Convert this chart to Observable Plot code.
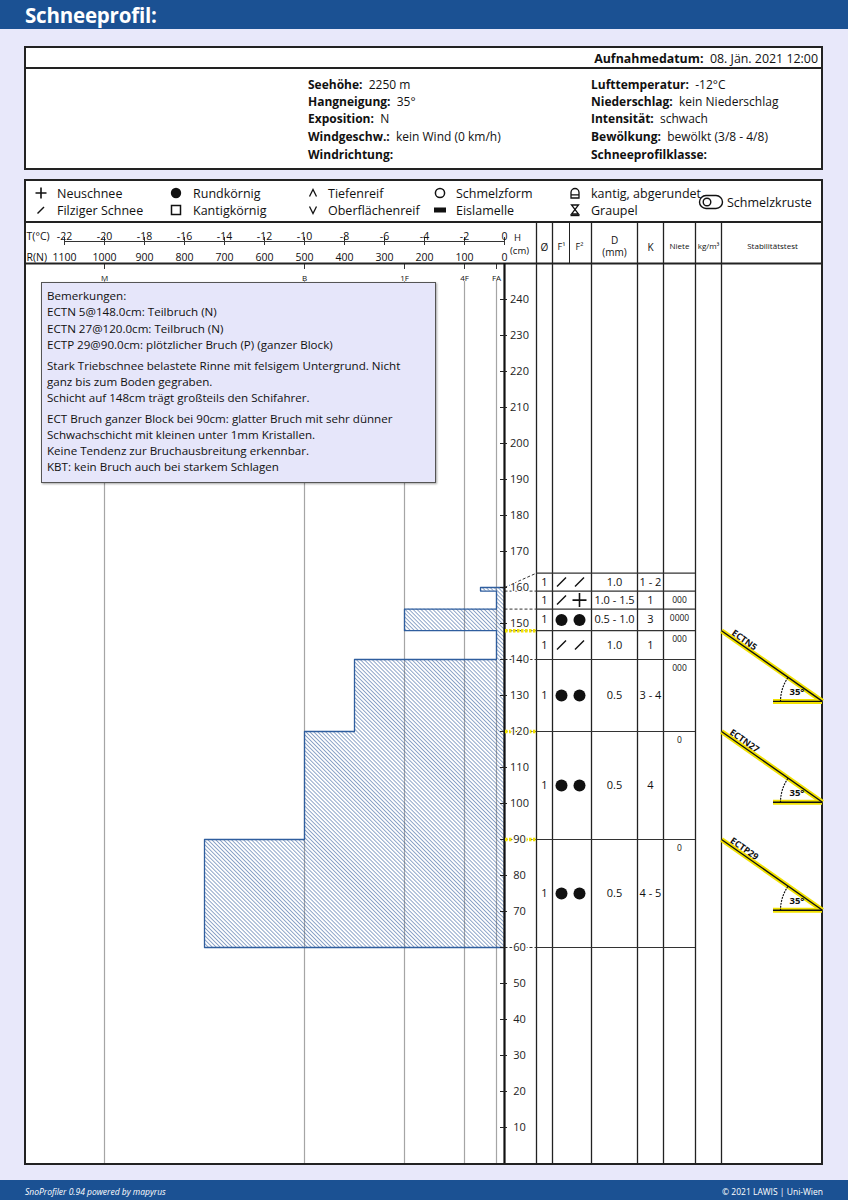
<!DOCTYPE html>
<html><head><meta charset="utf-8">
<script src="https://cdn.jsdelivr.net/npm/d3@7"></script>
<script src="https://cdn.jsdelivr.net/npm/@observablehq/plot@0.6"></script>
<style>
body{margin:0;background:#e8e8fa;font-family:"Open Sans",sans-serif;color:#111;}
#page{position:relative;width:848px;height:1200px;overflow:hidden;background:#e8e8fa;}
.abs{position:absolute;white-space:nowrap;}
.box{background:#fff;border:2px solid #222;}
.rem{background:#e6e6fa;border:1px solid #555;box-shadow:1px 1px 2px rgba(0,0,0,.35);}
</style></head>
<body><div id="page"></div>
<script>
// ---------------- DATA ----------------
const layerTop    = [160, 159, 154, 148, 140, 120, 90];
const layerBottom = [159, 154, 148, 140, 120, 90, 60];
const hardnessN   = [60, 20, 250, 20, 375, 500, 750];
const moisture    = ["1", "1", "1", "1", "1", "1", "1"];
const grainF1     = ["/", "/", "●", "/", "●", "●", "●"];
const grainF2     = ["/", "+", "●", "/", "●", "●", "●"];
const grainSize   = ["1.0", "1.0 - 1.5", "0.5 - 1.0", "1.0", "0.5", "0.5", "0.5"];
const handIndex   = ["1 - 2", "1", "3", "1", "3 - 4", "4", "4 - 5"];
const niete       = ["", "000", "0000", "000", "000", "0", "0"];

const tempTicks = [-22, -20, -18, -16, -14, -12, -10, -8, -6, -4, -2, 0];
const ramTicks  = [1100, 1000, 900, 800, 700, 600, 500, 400, 300, 200, 100, 0];
const handLabels = ["M", "B", "1F", "4F", "FA"];
const handN      = [1000, 500, 250, 100, 20];
const heightTicks = [10, 20, 30, 40, 50, 60, 70, 80, 90, 100, 110, 120, 130, 140, 150, 160, 170, 180, 190, 200, 210, 220, 230, 240];

const testNames   = ["ECTN5", "ECTN27", "ECTP29"];
const testHeights = [148, 120, 90];
const slopeDeg = 35;

const infoLeftLabels  = ["Seehöhe:", "Hangneigung:", "Exposition:", "Windgeschw.:", "Windrichtung:"];
const infoLeftValues  = ["2250 m", "35°", "N", "kein Wind (0 km/h)", ""];
const infoRightLabels = ["Lufttemperatur:", "Niederschlag:", "Intensität:", "Bewölkung:", "Schneeprofilklasse:"];
const infoRightValues = ["-12°C", "kein Niederschlag", "schwach", "bewölkt (3/8 - 4/8)", ""];
const recordDate = "08. Jän. 2021 12:00";

const legendSymbols = ["plus", "dot", "caret", "ring", "roundbox", "slash", "square", "vee", "bar", "graupel"];
const legendLabels  = ["Neuschnee", "Rundkörnig", "Tiefenreif", "Schmelzform", "kantig, abgerundet",
                       "Filziger Schnee", "Kantigkörnig", "Oberflächenreif", "Eislamelle", "Graupel"];

const remarks = [
  [["Bemerkungen:"], ["ECTN 5@148.0cm: Teilbruch (N)"], ["ECTN 27@120.0cm: Teilbruch (N)"], ["ECTP 29@90.0cm: plötzlicher Bruch (P) (ganzer Block)"]],
  [["Stark Triebschnee belastete Rinne mit felsigem Untergrund. Nicht", "ganz bis zum Boden gegraben."], ["Schicht auf 148cm trägt großteils den Schifahrer."]],
  [["ECT Bruch ganzer Block bei 90cm: glatter Bruch mit sehr dünner", "Schwachschicht mit kleinen unter 1mm Kristallen."], ["Keine Tendenz zur Bruchausbreitung erkennbar."], ["KBT: kein Bruch auch bei starkem Schlagen"]]
];

// ---------------- LAYOUT HELPERS ----------------
const page = document.getElementById("page");
function el(cls, css) { const d = document.createElement("div"); d.className = cls; d.style.cssText = css; page.appendChild(d); return d; }
function txt(x, y, html, css = "", anchor = "start") {
  const d = document.createElement("div");
  d.className = "abs";
  const tx = anchor === "end" ? "-100%" : anchor === "middle" ? "-50%" : "0";
  d.style.cssText = `left:${x}px;top:${y}px;transform:translate(${tx},-50%);` + css;
  d.innerHTML = html;
  page.appendChild(d);
  return d;
}

el("abs", "left:0;top:0;width:848px;height:29px;background:#1b5193;");
txt(25, 14.5, "Schneeprofil:", "color:#fff;font-weight:700;font-size:20.5px;letter-spacing:-0.2px;");

// info box
el("abs box", "left:24px;top:46px;width:795px;height:120px;");
el("abs", "left:24px;top:67px;width:799px;height:2px;background:#222;");
txt(818, 58, `<b>Aufnahmedatum:</b>&nbsp; ${recordDate}`, "font-size:12.4px;", "end");
const infoY = [84, 101, 118, 136, 154];
infoLeftLabels.forEach((l, i) => txt(308, infoY[i], `<b>${l}</b>&nbsp; ${infoLeftValues[i]}`, "font-size:12px;"));
infoRightLabels.forEach((l, i) => txt(591, infoY[i], `<b>${l}</b>&nbsp; ${infoRightValues[i]}`, "font-size:12px;"));

// main box + legend
el("abs box", "left:24px;top:179px;width:795px;height:982px;");
el("abs", "left:24px;top:221px;width:799px;height:2px;background:#222;");

function iconSvg(kind) {
  const s = 'stroke="#111" fill="none"';
  const p = {
    plus: `<path d="M1.5,7H12.5M7,1.5V12.5" ${s} stroke-width="1.6"/>`,
    slash: `<path d="M3.5,10.5L10,4" ${s} stroke-width="1.4"/>`,
    dot: `<circle cx="7" cy="7" r="5.2" fill="#111"/>`,
    square: `<rect x="2.5" y="2.5" width="9" height="9" ${s} stroke-width="1.5"/>`,
    caret: `<path d="M3.5,10.5L7,3.5L10.5,10.5" ${s} stroke-width="1.3"/>`,
    vee: `<path d="M3.5,3.5L7,10.5L10.5,3.5" ${s} stroke-width="1.3"/>`,
    ring: `<circle cx="7" cy="7" r="4.6" ${s} stroke-width="1.5"/>`,
    bar: `<rect x="1" y="4.5" width="12" height="5" fill="#111"/>`,
    roundbox: `<path d="M3,12V6.5A4,4 0 0 1 11,6.5V12Z M3,8.8H11" ${s} stroke-width="1.3"/>`,
    graupel: `<path d="M3.5,2H10.5L3.5,11H10.5Z" ${s} stroke-width="1.3"/><path d="M2.5,12.3H11.5" ${s} stroke-width="1.8"/>`
  }[kind];
  return `<svg width="14" height="14" viewBox="0 0 14 14" style="display:block">${p}</svg>`;
}
const legX = [41, 176, 313, 440, 575], legTX = [57, 193, 328, 456, 591], legY = [193, 210];
legendLabels.forEach((lab, i) => {
  const c = i % 5, r = Math.floor(i / 5);
  txt(legX[c], legY[r], iconSvg(legendSymbols[i]), "", "middle");
  txt(legTX[c], legY[r], lab, "font-size:12.5px;line-height:15px;");
});
txt(711, 202, `<svg width="28" height="18" viewBox="0 0 28 18" style="display:block"><path d="M9,2.5A6.5,6.5 0 1 0 9,15.5H19A6.5,6.5 0 1 0 19,2.5Z" stroke="#111" fill="none" stroke-width="1.4"/><circle cx="10" cy="9" r="3.8" stroke="#111" fill="none" stroke-width="1.4"/></svg>`, "", "middle");
txt(727, 202, "Schmelzkruste", "font-size:12.5px;");

// ---------------- PLOTS ----------------
const W_A = 479, W_B = 319, H = 942, MT = 41, MB = 1;
const pxPerCm = (H - MT - MB) / 250;
const n = layerTop.length;
const layers = layerTop.map((t, i) => ({top: t, bottom: layerBottom[i], R: hardnessN[i]}));
const outline = [];
layers.forEach(d => { outline.push({R: d.R, h: d.top}, {R: d.R, h: d.bottom}); });
outline.push({R: 0, h: layerBottom[n - 1]}, {R: 0, h: layerTop[0]}, {R: hardnessN[0], h: layerTop[0]});

const baseStyle = {background: "none", overflow: "visible", fontFamily: "'Open Sans', sans-serif", color: "#111"};

const plotA = Plot.plot({
  width: W_A, height: H, marginTop: MT, marginBottom: MB, marginLeft: 0, marginRight: 0,
  x: {domain: [1197.5, 0], axis: null},
  y: {domain: [0, 250], axis: null},
  style: baseStyle,
  marks: [
    Plot.ruleY([250], {x1: 1100, x2: 0, dy: -22, stroke: "#333", strokeWidth: 1.1}),
    Plot.ruleX(ramTicks, {x: d => d, insetTop: -26, insetBottom: 918, stroke: "#333", strokeWidth: 1}),
    Plot.text(tempTicks, {x: t => -50 * t, text: t => String(t), frameAnchor: "top", dy: -31, fontSize: 10.5, fill: "#111"}),
    Plot.text(ramTicks, {x: d => d, text: d => String(d), frameAnchor: "top", dy: -10, fontSize: 10.5, fill: "#111"}),
    Plot.text(["T(°C)"], {x: 1100, text: d => d, frameAnchor: "top", dy: -31, dx: -38, textAnchor: "start", fontSize: 10.5, fill: "#111"}),
    Plot.text(["R(N)"], {x: 1100, text: d => d, frameAnchor: "top", dy: -10, dx: -38, textAnchor: "start", fontSize: 10.5, fill: "#111"}),
    Plot.ruleX(handN, {x: d => d, insetBottom: 894, stroke: "#333", strokeWidth: 1}),
    Plot.text(handLabels, {x: (d, i) => handN[i], text: d => d, frameAnchor: "top", dy: 12, fontSize: 8, fill: "#111"}),
    Plot.ruleX(handN, {x: d => d, insetTop: 18, stroke: "#a5a5a5", strokeWidth: 1.2}),
    Plot.rect(layers, {x1: "R", x2: 0, y1: "bottom", y2: "top", fill: "url(#hatch)"}),
    Plot.line(outline, {x: "R", y: "h", stroke: "#2f5e9e", strokeWidth: 1.3}),
    Plot.ruleY([250], {stroke: "#222", strokeWidth: 2})
  ]
});
d3.select(plotA).insert("defs", ":first-child").html(
  `<pattern id="hatch" patternUnits="userSpaceOnUse" width="2.8" height="2.8" patternTransform="rotate(-45)">
     <line x1="0" y1="0" x2="0" y2="2.8" stroke="#2a5598" stroke-width="1.05"/></pattern>`);

// table rows: display extents (rows thinner than 5 cm are stretched upward)
const dispBottom = new Array(n), dispTop = new Array(n);
let prev = -Infinity;
for (let i = n - 1; i >= 0; i--) {
  const b = Math.max(layerBottom[i], prev);
  const t = Math.max(layerTop[i], b + 5);
  dispBottom[i] = b; dispTop[i] = t; prev = t;
}
const rows = layerTop.map((t, i) => ({
  mid: (dispTop[i] + dispBottom[i]) / 2, top: dispTop[i],
  moist: moisture[i], f1: grainF1[i], f2: grainF2[i], size: grainSize[i], k: handIndex[i], niete: niete[i]
}));
const connectors = layerTop.map((t, i) => ({h: t, d: dispTop[i]})).concat([{h: layerBottom[n - 1], d: dispBottom[n - 1]}]);
const rowLines = dispTop.concat([dispBottom[n - 1]]);

const colEdges = [32, 48, 87, 133, 159, 191, 217];
const cx = {moist: 40, f1: 57, f2: 75, size: 110, k: 146, niete: 175, dens: 204, stab: 268};
const grains = [];
rows.forEach(r => { grains.push({x: cx.f1, y: r.mid, s: r.f1}, {x: cx.f2, y: r.mid, s: r.f2}); });
const symSlash = {draw(c, size) { const r = Math.sqrt(size / Math.PI); c.moveTo(-r, r); c.lineTo(r, -r); }};
const symPlus = {draw(c, size) { const r = Math.sqrt(size / Math.PI); c.moveTo(-r, 0); c.lineTo(r, 0); c.moveTo(0, -r); c.lineTo(0, r); }};

const tanA = Math.tan(slopeDeg * Math.PI / 180);
const slopeLeft = 217, slopeRight = 318, baseLeft = 269;
const tests = testNames.map((name, i) => ({name, h: testHeights[i], hb: testHeights[i] - (slopeRight - slopeLeft) * tanA / pxPerCm}));
const arcs = [];
tests.forEach(t => { for (let a = 0; a <= slopeDeg; a += 2.5) { const r = a * Math.PI / 180; arcs.push({name: t.name, x: slopeRight - 42 * Math.cos(r), y: t.hb + 42 * Math.sin(r) / pxPerCm}); } });
const yellow = "#f2e200";
const headerT = (arr, opts) => Plot.text(arr, {x: d => d[0], text: d => d[1], frameAnchor: "top", fill: "#111", ...opts});

const plotB = Plot.plot({
  width: W_B, height: H, marginTop: MT, marginBottom: MB, marginLeft: 0, marginRight: 0,
  x: {domain: [0, W_B], axis: null},
  y: {domain: [0, 250], axis: null},
  style: baseStyle,
  marks: [
    Plot.ruleX(colEdges, {x: d => d, insetTop: -41, stroke: "#222", strokeWidth: 1.3}),
    Plot.ruleX([65], {x: d => d, insetTop: -41, insetBottom: 900, stroke: "#222", strokeWidth: 1}),
    Plot.ruleY([250], {stroke: "#222", strokeWidth: 2}),
    headerT([[13, "H"]], {dy: -29, fontSize: 9.5}),
    headerT([[15, "(cm)"]], {dy: -16, fontSize: 9.5}),
    headerT([[cx.moist, "Ø"]], {dy: -20, fontSize: 10}),
    headerT([[57, "F¹"], [75, "F²"]], {dy: -20, fontSize: 9}),
    headerT([[cx.size, "D"]], {dy: -27, fontSize: 10}),
    headerT([[cx.size, "(mm)"]], {dy: -15, fontSize: 10}),
    headerT([[cx.k, "K"]], {dy: -20, fontSize: 10}),
    headerT([[cx.niete, "Niete"], [cx.dens, "kg/m³"], [cx.stab, "Stabilitätstest"]], {dy: -20, fontSize: 8}),
    // row lines and connectors
    Plot.ruleY(rowLines, {y: d => d, x1: 32, x2: 191, stroke: "#333", strokeWidth: 1.2}),
    Plot.link(connectors, {x1: 0, y1: "h", x2: 32, y2: "d", stroke: "#333", strokeWidth: 1, strokeDasharray: "3,2"}),
    // height axis
    Plot.ruleX([0], {x: d => d, stroke: "#111", strokeWidth: 2.2}),
    Plot.ruleY(heightTicks, {y: d => d, x1: -4, x2: 3, stroke: "#222", strokeWidth: 1}),
    Plot.text(heightTicks.filter(h => !testHeights.includes(h)), {x: 15, y: d => d, text: d => String(d), fontSize: 11, fill: "#222", stroke: "white", strokeWidth: 3}),
    Plot.ruleY(testHeights, {y: d => d, x1: 1, x2: 32, stroke: yellow, strokeWidth: 3.5, strokeDasharray: "2.5,1.5"}),
    Plot.text(heightTicks.filter(h => testHeights.includes(h)), {x: 15, y: d => d, text: d => String(d), fontSize: 11, fill: "#222", stroke: "white", strokeWidth: 3}),
    // table cells
    Plot.text(rows, {x: cx.moist, y: "mid", text: "moist", fontSize: 11, fill: "#111"}),
    Plot.dot(grains.filter(g => g.s === "●"), {x: "x", y: "y", r: 6, fill: "#111", stroke: "none"}),
    Plot.dot(grains.filter(g => g.s === "/"), {x: "x", y: "y", r: 4.5, symbol: symSlash, stroke: "#111", strokeWidth: 1.4, fill: "none"}),
    Plot.dot(grains.filter(g => g.s === "+"), {x: "x", y: "y", r: 7, symbol: symPlus, stroke: "#111", strokeWidth: 1.6, fill: "none"}),
    Plot.text(rows, {x: cx.size, y: "mid", text: "size", fontSize: 11, fill: "#111"}),
    Plot.text(rows, {x: cx.k, y: "mid", text: "k", fontSize: 11, fill: "#111"}),
    Plot.text(rows, {x: cx.niete, y: "top", text: "niete", dy: 9, fontSize: 8.5, fill: "#111"}),
    // stability tests
    Plot.link(tests, {x1: slopeLeft, y1: "h", x2: slopeRight, y2: "hb", stroke: yellow, strokeWidth: 5}),
    Plot.ruleY(tests, {y: "hb", x1: baseLeft, x2: slopeRight, stroke: yellow, strokeWidth: 5}),
    Plot.link(tests, {x1: slopeLeft, y1: "h", x2: slopeRight, y2: "hb", stroke: "#111", strokeWidth: 1.4}),
    Plot.ruleY(tests, {y: "hb", x1: baseLeft, x2: slopeRight, stroke: "#111", strokeWidth: 1.4}),
    Plot.line(arcs, {x: "x", y: "y", z: "name", stroke: "#111", strokeWidth: 1.2, strokeDasharray: "1,2"}),
    Plot.text(tests, {x: baseLeft + 16, y: "hb", text: () => slopeDeg + "°", dy: -9, textAnchor: "start", fontSize: 9.5, fontWeight: "bold", fill: "#111"}),
    Plot.text(tests, {x: slopeLeft, y: "h", text: "name", rotate: slopeDeg, dx: 24 * Math.cos(slopeDeg * Math.PI / 180) + 1.5, dy: 24 * Math.sin(slopeDeg * Math.PI / 180) - 2, lineAnchor: "bottom", fontSize: 9, fontWeight: "bold", fill: "#111"})
  ]
});

plotA.style.position = "absolute"; plotA.style.left = "25px"; plotA.style.top = "222px";
plotB.style.position = "absolute"; plotB.style.left = "504px"; plotB.style.top = "222px";
page.appendChild(plotA); page.appendChild(plotB);

// remarks box
el("abs rem", "left:41px;top:282px;width:393px;height:199px;");
const wrapLH = 15.9, lineLH = 16.4, paraGap = 20.6;
let ry = 295, first = true;
remarks.forEach(para => {
  para.forEach((entry, li) => {
    entry.forEach((line, wi) => {
      if (!first) ry += wi > 0 ? wrapLH : (li === 0 ? paraGap : lineLH);
      first = false;
      txt(47, ry, line, "font-size:11.6px;line-height:13px;color:#111;");
    });
  });
});

// footer
el("abs", "left:0;top:1180px;width:848px;height:20px;background:#1b5193;");
txt(25, 1191, "SnoProfiler 0.94 powered by mapyrus", "color:#fff;font-size:8.5px;font-style:italic;");
txt(823, 1191, "© 2021 LAWIS | Uni-Wien", "color:#fff;font-size:8.5px;", "end");
</script>
</body></html>
